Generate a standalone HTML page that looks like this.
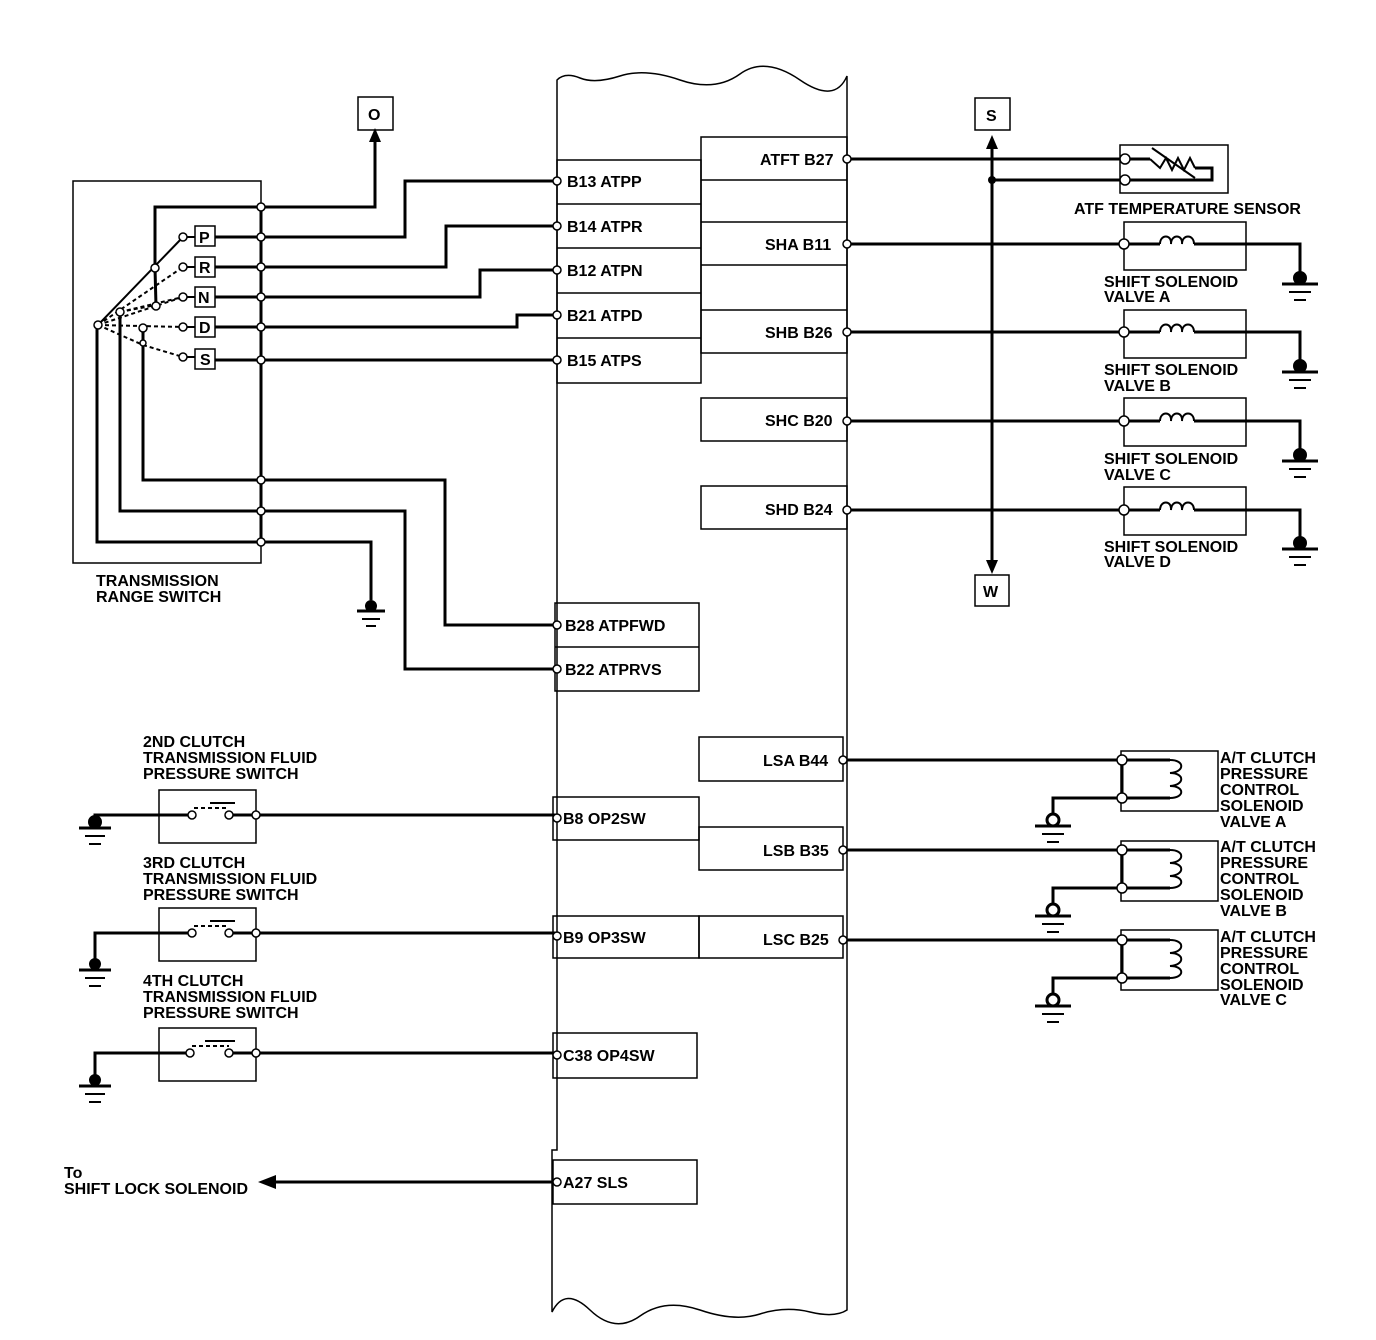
<!DOCTYPE html>
<html><head><meta charset="utf-8"><style>
html,body{margin:0;padding:0;background:#fff}
svg{display:block}
text{font-family:"Liberation Sans",Arial,sans-serif;font-weight:bold;font-size:16px;fill:#000}
</style></head><body>
<svg id="s" width="1376" height="1340" viewBox="0 0 1376 1340" xmlns="http://www.w3.org/2000/svg">
<g fill="none" stroke="#000" stroke-width="1.5">
<path d="M557,80 Q565,72 580,78 T620,76 T680,80 T740,74 T800,80 T847,76 L847,1310 Q835,1318 810,1312 T760,1314 T700,1310 T640,1316 T590,1310 T552,1312 L552,1150 L557,1150 Z"/>
<rect x="557" y="160" width="144" height="223"/>
<line x1="557" y1="204" x2="701" y2="204"/><line x1="557" y1="248" x2="701" y2="248"/>
<line x1="557" y1="293" x2="701" y2="293"/><line x1="557" y1="338" x2="701" y2="338"/>
<rect x="701" y="137" width="146" height="216"/>
<line x1="701" y1="180" x2="847" y2="180"/><line x1="701" y1="222" x2="847" y2="222"/>
<line x1="701" y1="265" x2="847" y2="265"/><line x1="701" y1="310" x2="847" y2="310"/>
<rect x="701" y="398" width="146" height="43"/>
<rect x="701" y="486" width="146" height="43"/>
<rect x="555" y="603" width="144" height="88"/><line x1="555" y1="647" x2="699" y2="647"/>
<rect x="699" y="737" width="144" height="44"/>
<rect x="553" y="797" width="146" height="43"/>
<rect x="699" y="827" width="144" height="43"/>
<rect x="553" y="916" width="146" height="42"/>
<rect x="699" y="916" width="144" height="42"/>
<rect x="553" y="1033" width="144" height="45"/>
<rect x="553" y="1160" width="144" height="44"/>
<rect x="73" y="181" width="188" height="382"/>
<rect x="358" y="97" width="35" height="33"/>
<rect x="975" y="98" width="35" height="32"/>
<rect x="975" y="575" width="34" height="31"/>
<rect x="1120" y="145" width="108" height="48"/>
<rect x="1124" y="222" width="122" height="48"/>
<rect x="1124" y="310" width="122" height="48"/>
<rect x="1124" y="398" width="122" height="48"/>
<rect x="1124" y="487" width="122" height="48"/>
<rect x="1121" y="751" width="97" height="60"/>
<rect x="1121" y="841" width="97" height="60"/>
<rect x="1121" y="930" width="97" height="60"/>
<rect x="159" y="790" width="97" height="53"/>
<rect x="159" y="908" width="97" height="53"/>
<rect x="159" y="1028" width="97" height="53"/>
<rect x="195" y="226" width="20" height="20"/><rect x="195" y="257" width="20" height="20"/>
<rect x="195" y="287" width="20" height="20"/><rect x="195" y="317" width="20" height="20"/>
<rect x="195" y="349" width="20" height="20"/>
</g>
<g fill="none" stroke="#000" stroke-width="3">
<line x1="261" y1="205" x2="261" y2="542"/>
<polyline points="155,268 155,207 375,207 375,138"/>
<polyline points="215,237 405,237 405,181 557,181"/>
<polyline points="215,267 446,267 446,226 557,226"/>
<polyline points="215,297 480,297 480,270 557,270"/>
<polyline points="215,327 517,327 517,315 557,315"/>
<polyline points="215,360 557,360"/>
<polyline points="143,343 143,480 445,480 445,625 557,625"/>
<polyline points="120,312 120,511 405,511 405,669 557,669"/>
<polyline points="97,325 97,542 371,542 371,600"/>
<line x1="155" y1="268" x2="156" y2="306"/>
<line x1="143" y1="330" x2="143" y2="343"/>
<polyline points="95,818 95,815 192,815"/><line x1="229" y1="815" x2="557" y2="815"/>
<polyline points="95,960 95,933 192,933"/><line x1="229" y1="933" x2="557" y2="933"/>
<polyline points="95,1077 95,1053 190,1053"/><line x1="229" y1="1053" x2="557" y2="1053"/>
<line x1="275" y1="1182" x2="557" y2="1182"/>
<line x1="847" y1="159" x2="1125" y2="159"/>
<line x1="992" y1="180" x2="1125" y2="180"/>
<line x1="992" y1="146" x2="992" y2="564"/>
<line x1="847" y1="244" x2="1160" y2="244"/><polyline points="1194,244 1300,244 1300,275"/>
<line x1="847" y1="332" x2="1160" y2="332"/><polyline points="1194,332 1300,332 1300,363"/>
<line x1="847" y1="421" x2="1160" y2="421"/><polyline points="1194,421 1300,421 1300,452"/>
<line x1="847" y1="510" x2="1160" y2="510"/><polyline points="1194,510 1300,510 1300,540"/>
<line x1="847" y1="760" x2="1170" y2="760"/><polyline points="1053,818 1053,798 1170,798"/><line x1="1122" y1="760" x2="1122" y2="798"/>
<line x1="847" y1="850" x2="1170" y2="850"/><polyline points="1053,908 1053,888 1170,888"/><line x1="1122" y1="850" x2="1122" y2="888"/>
<line x1="847" y1="940" x2="1170" y2="940"/><polyline points="1053,998 1053,978 1170,978"/><line x1="1122" y1="940" x2="1122" y2="978"/>
<polyline points="1125,159 1150,159"/><polyline points="1195,168 1212,168 1212,180 1125,180"/>
</g>
<g fill="none" stroke="#000" stroke-width="2">
<line x1="98" y1="325" x2="183" y2="237"/>
<g stroke-dasharray="4,3">
<line x1="98" y1="325" x2="183" y2="267"/><line x1="98" y1="325" x2="183" y2="297"/>
<line x1="98" y1="325" x2="183" y2="327"/><line x1="98" y1="325" x2="143" y2="345"/>
<line x1="120" y1="312" x2="156" y2="305"/><line x1="120" y1="312" x2="183" y2="297"/>
<line x1="143" y1="345" x2="183" y2="357"/>
<line x1="194" y1="808" x2="229" y2="808"/><line x1="194" y1="926" x2="229" y2="926"/><line x1="192" y1="1046" x2="229" y2="1046"/>
</g>
<line x1="183" y1="237" x2="195" y2="237"/><line x1="183" y1="267" x2="195" y2="267"/><line x1="183" y1="297" x2="195" y2="297"/><line x1="183" y1="327" x2="195" y2="327"/><line x1="183" y1="357" x2="195" y2="357"/>
<line x1="210" y1="803" x2="235" y2="803"/><line x1="210" y1="921" x2="235" y2="921"/><line x1="205" y1="1041" x2="235" y2="1041"/>
<path d="M1160,244 c0,-10 12,-10 11,0 c0,-10 12,-10 11,0 c0,-10 12,-10 12,0"/>
<path d="M1160,332 c0,-10 12,-10 11,0 c0,-10 12,-10 11,0 c0,-10 12,-10 12,0"/>
<path d="M1160,421 c0,-10 12,-10 11,0 c0,-10 12,-10 11,0 c0,-10 12,-10 12,0"/>
<path d="M1160,510 c0,-10 12,-10 11,0 c0,-10 12,-10 11,0 c0,-10 12,-10 12,0"/>
<path d="M1170,760 c15,0 15,12 0,13 c15,0 15,12 0,13 c15,0 15,12 0,12"/>
<path d="M1170,850 c15,0 15,12 0,13 c15,0 15,12 0,13 c15,0 15,12 0,12"/>
<path d="M1170,940 c15,0 15,12 0,13 c15,0 15,12 0,13 c15,0 15,12 0,12"/>
<polyline points="1150,159 1160,168 1166,158 1172,170 1178,158 1184,170 1190,158 1195,168"/>
<line x1="1152" y1="148" x2="1195" y2="178"/>
</g>
<g fill="#000">
<polygon points="375,128 369,142 381,142"/>
<polygon points="992,135 986,149 998,149"/>
<polygon points="992,574 986,560 998,560"/>
<polygon points="258,1182 276,1175 276,1189"/>
</g>
<g stroke="#000" fill="none" stroke-width="2">
<g transform="translate(371,606)"><circle r="5" fill="#000"/><line x1="-14" y1="5" x2="14" y2="5" stroke-width="3"/><line x1="-9" y1="13" x2="9" y2="13"/><line x1="-5" y1="20" x2="5" y2="20"/></g>
<g transform="translate(95,822)"><circle r="6" fill="#000"/><line x1="-16" y1="6" x2="16" y2="6" stroke-width="3"/><line x1="-10" y1="14" x2="10" y2="14"/><line x1="-6" y1="22" x2="6" y2="22"/></g>
<g transform="translate(95,964)"><circle r="5" fill="#000"/><line x1="-16" y1="6" x2="16" y2="6" stroke-width="3"/><line x1="-10" y1="14" x2="10" y2="14"/><line x1="-6" y1="22" x2="6" y2="22"/></g>
<g transform="translate(95,1080)"><circle r="5" fill="#000"/><line x1="-16" y1="6" x2="16" y2="6" stroke-width="3"/><line x1="-10" y1="14" x2="10" y2="14"/><line x1="-6" y1="22" x2="6" y2="22"/></g>
<g transform="translate(1300,278)"><circle r="6" fill="#000"/><line x1="-18" y1="6" x2="18" y2="6" stroke-width="3"/><line x1="-11" y1="14" x2="11" y2="14"/><line x1="-6" y1="22" x2="6" y2="22"/></g>
<g transform="translate(1300,366)"><circle r="6" fill="#000"/><line x1="-18" y1="6" x2="18" y2="6" stroke-width="3"/><line x1="-11" y1="14" x2="11" y2="14"/><line x1="-6" y1="22" x2="6" y2="22"/></g>
<g transform="translate(1300,455)"><circle r="6" fill="#000"/><line x1="-18" y1="6" x2="18" y2="6" stroke-width="3"/><line x1="-11" y1="14" x2="11" y2="14"/><line x1="-6" y1="22" x2="6" y2="22"/></g>
<g transform="translate(1300,543)"><circle r="6" fill="#000"/><line x1="-18" y1="6" x2="18" y2="6" stroke-width="3"/><line x1="-11" y1="14" x2="11" y2="14"/><line x1="-6" y1="22" x2="6" y2="22"/></g>
<g transform="translate(1053,820)"><circle r="6" fill="#fff" stroke-width="3"/><line x1="-18" y1="6" x2="18" y2="6" stroke-width="3"/><line x1="-11" y1="14" x2="11" y2="14"/><line x1="-6" y1="22" x2="6" y2="22"/></g>
<g transform="translate(1053,910)"><circle r="6" fill="#fff" stroke-width="3"/><line x1="-18" y1="6" x2="18" y2="6" stroke-width="3"/><line x1="-11" y1="14" x2="11" y2="14"/><line x1="-6" y1="22" x2="6" y2="22"/></g>
<g transform="translate(1053,1000)"><circle r="6" fill="#fff" stroke-width="3"/><line x1="-18" y1="6" x2="18" y2="6" stroke-width="3"/><line x1="-11" y1="14" x2="11" y2="14"/><line x1="-6" y1="22" x2="6" y2="22"/></g>
</g>
<g fill="#fff" stroke="#000" stroke-width="1.5">
<circle cx="557" cy="181" r="4"/><circle cx="557" cy="226" r="4"/><circle cx="557" cy="270" r="4"/><circle cx="557" cy="315" r="4"/><circle cx="557" cy="360" r="4"/>
<circle cx="557" cy="625" r="4"/><circle cx="557" cy="669" r="4"/><circle cx="557" cy="818" r="4"/><circle cx="557" cy="936" r="4"/><circle cx="557" cy="1055" r="4"/><circle cx="557" cy="1182" r="4"/>
<circle cx="847" cy="159" r="4"/><circle cx="847" cy="244" r="4"/><circle cx="847" cy="332" r="4"/><circle cx="847" cy="421" r="4"/><circle cx="847" cy="510" r="4"/>
<circle cx="843" cy="760" r="4"/><circle cx="843" cy="850" r="4"/><circle cx="843" cy="940" r="4"/>
<circle cx="261" cy="207" r="4"/><circle cx="261" cy="237" r="4"/><circle cx="261" cy="267" r="4"/><circle cx="261" cy="297" r="4"/><circle cx="261" cy="327" r="4"/><circle cx="261" cy="360" r="4"/>
<circle cx="261" cy="480" r="4"/><circle cx="261" cy="511" r="4"/><circle cx="261" cy="542" r="4"/>
<circle cx="183" cy="237" r="4"/><circle cx="183" cy="267" r="4"/><circle cx="183" cy="297" r="4"/><circle cx="183" cy="327" r="4"/><circle cx="183" cy="357" r="4"/>
<circle cx="98" cy="325" r="4"/><circle cx="120" cy="312" r="4"/><circle cx="155" cy="268" r="4"/><circle cx="156" cy="306" r="4"/><circle cx="143" cy="328" r="4"/><circle cx="143" cy="343" r="3"/>
<circle cx="192" cy="815" r="4"/><circle cx="229" cy="815" r="4"/><circle cx="256" cy="815" r="4"/>
<circle cx="192" cy="933" r="4"/><circle cx="229" cy="933" r="4"/><circle cx="256" cy="933" r="4"/>
<circle cx="190" cy="1053" r="4"/><circle cx="229" cy="1053" r="4"/><circle cx="256" cy="1053" r="4"/>
<circle cx="1125" cy="159" r="5"/><circle cx="1125" cy="180" r="5"/>
<circle cx="1124" cy="244" r="5"/><circle cx="1124" cy="332" r="5"/><circle cx="1124" cy="421" r="5"/><circle cx="1124" cy="510" r="5"/>
<circle cx="1122" cy="760" r="5"/><circle cx="1122" cy="798" r="5"/><circle cx="1122" cy="850" r="5"/><circle cx="1122" cy="888" r="5"/><circle cx="1122" cy="940" r="5"/><circle cx="1122" cy="978" r="5"/>
</g>
<circle cx="992" cy="180" r="4" fill="#000"/>
<text x="368" y="120">O</text><text x="986" y="121">S</text><text x="983" y="597">W</text>
<text x="199" y="243">P</text><text x="199" y="273">R</text><text x="198" y="303">N</text><text x="199" y="333">D</text><text x="200" y="365">S</text>
<text x="567" y="187">B13 ATPP</text><text x="567" y="232">B14 ATPR</text><text x="567" y="276">B12  ATPN</text><text x="567" y="321">B21 ATPD</text><text x="567" y="366">B15 ATPS</text>
<text x="760" y="165">ATFT B27</text><text x="765" y="250">SHA B11</text><text x="765" y="338">SHB B26</text><text x="765" y="426">SHC B20</text><text x="765" y="515">SHD B24</text>
<text x="565" y="631">B28 ATPFWD</text><text x="565" y="675">B22 ATPRVS</text>
<text x="763" y="766">LSA B44</text><text x="763" y="856">LSB B35</text><text x="763" y="945">LSC B25</text>
<text x="563" y="824">B8 OP2SW</text><text x="563" y="943">B9 OP3SW</text><text x="563" y="1061">C38 OP4SW</text><text x="563" y="1188">A27 SLS</text>
<text x="96" y="586">TRANSMISSION</text><text x="96" y="602">RANGE SWITCH</text>
<text x="1074" y="214">ATF TEMPERATURE SENSOR</text>
<text x="1104" y="287">SHIFT SOLENOID</text><text x="1104" y="302">VALVE A</text>
<text x="1104" y="375">SHIFT SOLENOID</text><text x="1104" y="391">VALVE B</text>
<text x="1104" y="464">SHIFT SOLENOID</text><text x="1104" y="480">VALVE C</text>
<text x="1104" y="552">SHIFT SOLENOID</text><text x="1104" y="567">VALVE D</text>
<text x="143" y="747">2ND CLUTCH</text><text x="143" y="763">TRANSMISSION FLUID</text><text x="143" y="779">PRESSURE SWITCH</text>
<text x="143" y="868">3RD CLUTCH</text><text x="143" y="884">TRANSMISSION FLUID</text><text x="143" y="900">PRESSURE SWITCH</text>
<text x="143" y="986">4TH CLUTCH</text><text x="143" y="1002">TRANSMISSION FLUID</text><text x="143" y="1018">PRESSURE SWITCH</text>
<text x="64" y="1178">To</text><text x="64" y="1194">SHIFT LOCK SOLENOID</text>
<text x="1220" y="763">A/T CLUTCH</text><text x="1220" y="779">PRESSURE</text><text x="1220" y="795">CONTROL</text><text x="1220" y="811">SOLENOID</text><text x="1220" y="827">VALVE A</text>
<text x="1220" y="852">A/T CLUTCH</text><text x="1220" y="868">PRESSURE</text><text x="1220" y="884">CONTROL</text><text x="1220" y="900">SOLENOID</text><text x="1220" y="916">VALVE B</text>
<text x="1220" y="942">A/T CLUTCH</text><text x="1220" y="958">PRESSURE</text><text x="1220" y="974">CONTROL</text><text x="1220" y="990">SOLENOID</text><text x="1220" y="1005">VALVE C</text>
</svg>
</body></html>
